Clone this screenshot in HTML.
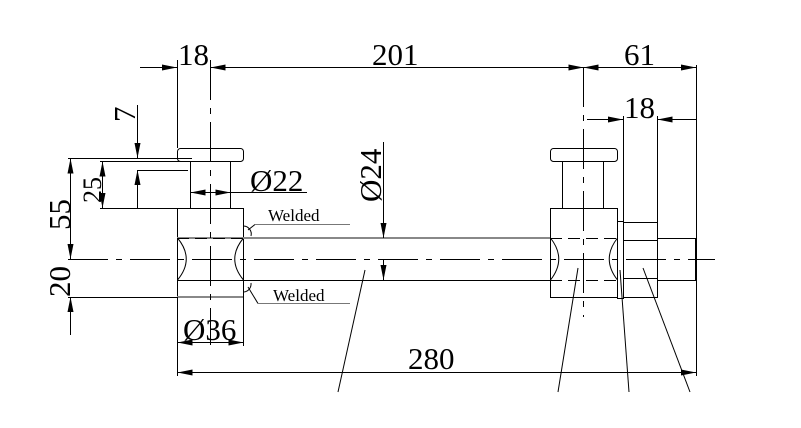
<!DOCTYPE html>
<html><head><meta charset="utf-8"><style>
html,body{margin:0;padding:0;background:#fff;}
svg{display:block;}
text{font-family:"Liberation Serif",serif;fill:#000;}
</style></head><body>
<svg width="801" height="428" viewBox="0 0 801 428" xmlns="http://www.w3.org/2000/svg">
<defs>
<marker id="a" viewBox="0 0 15 6" refX="15" refY="3" markerWidth="15" markerHeight="6" orient="auto-start-reverse" markerUnits="userSpaceOnUse"><path d="M0,0 L15,3 L0,6 z" fill="#000"/></marker>
</defs>
<g stroke="#000" stroke-width="1" fill="none">
<rect x="177.5" y="148.5" width="66" height="13" rx="3"/>
<rect x="190.5" y="161.5" width="40" height="47"/>
<path d="M177.5 208.5 H243.5 V297.5 H177.5 Z"/>
<path d="M177.5 238 Q195 259 177.5 280" />
<path d="M243.5 238 Q226 259 243.5 280" />
<line x1="177" y1="238" x2="550" y2="238" stroke="#888" stroke-width="2"/>
<line x1="177" y1="280.5" x2="550" y2="280.5"/>
<line x1="177" y1="297" x2="243" y2="297" stroke="#888" stroke-width="2"/>
<rect x="550.5" y="148.5" width="67" height="13" rx="3"/>
<rect x="562.5" y="161.5" width="41" height="47"/>
<path d="M550.5 208.5 H617.5 V297.5 H550.5 Z"/>
<path d="M550.5 238 Q567 259 550.5 280" />
<path d="M617.5 238 Q601 259 617.5 280" />
<rect x="617.5" y="221.5" width="6" height="77"/>
<rect x="623.5" y="222.5" width="34" height="75"/>
<line x1="623" y1="240.5" x2="657" y2="240.5"/>
<line x1="623" y1="278.5" x2="657" y2="278.5"/>
<rect x="657.5" y="238.5" width="38" height="42"/>
<g stroke-dasharray="12,6">
<line x1="177" y1="238.5" x2="243" y2="238.5"/>
<line x1="177" y1="280.5" x2="243" y2="280.5"/>
<line x1="550" y1="238.5" x2="617" y2="238.5"/>
<line x1="550" y1="280.5" x2="617" y2="280.5"/>
</g>
<g stroke-dasharray="40,8,6,8">
<line x1="68" y1="259.5" x2="715" y2="259.5"/>
<line x1="210.5" y1="60" x2="210.5" y2="345"/>
<line x1="583.5" y1="67" x2="583.5" y2="317"/>
</g>
<line x1="177.5" y1="60" x2="177.5" y2="148"/>
<line x1="140" y1="67.5" x2="177" y2="67.5" marker-end="url(#a)"/>
<line x1="250" y1="67.5" x2="210.5" y2="67.5" marker-end="url(#a)"/>
<line x1="210.5" y1="67.5" x2="583.5" y2="67.5"/>
<line x1="560" y1="67.5" x2="583.5" y2="67.5" marker-end="url(#a)"/>
<line x1="583.5" y1="67.5" x2="602" y2="67.5" marker-start="url(#a)"/>
<line x1="600" y1="67.5" x2="696" y2="67.5" marker-end="url(#a)"/>
<line x1="696.5" y1="65" x2="696.5" y2="376"/>
<line x1="623.5" y1="116" x2="623.5" y2="222"/>
<line x1="657.5" y1="116" x2="657.5" y2="222"/>
<line x1="587" y1="119.5" x2="623" y2="119.5" marker-end="url(#a)"/>
<line x1="696" y1="119.5" x2="657.5" y2="119.5" marker-end="url(#a)"/>
<line x1="68" y1="158.5" x2="192" y2="158.5"/>
<line x1="70.5" y1="259" x2="70.5" y2="158.5" marker-end="url(#a)"/>
<line x1="70.5" y1="200" x2="70.5" y2="259" marker-end="url(#a)"/>
<line x1="70.5" y1="335" x2="70.5" y2="297" marker-end="url(#a)"/>
<line x1="68" y1="297.5" x2="177" y2="297.5"/>
<line x1="100" y1="161.5" x2="190" y2="161.5"/>
<line x1="100" y1="208.5" x2="177" y2="208.5"/>
<line x1="102.5" y1="185" x2="102.5" y2="161.5" marker-end="url(#a)"/>
<line x1="102.5" y1="185" x2="102.5" y2="208" marker-end="url(#a)"/>
<line x1="137.5" y1="105" x2="137.5" y2="158" marker-end="url(#a)"/>
<line x1="137.5" y1="208" x2="137.5" y2="170" marker-end="url(#a)"/>
<line x1="137" y1="170.5" x2="188" y2="170.5"/>
<line x1="210" y1="192.5" x2="190.5" y2="192.5" marker-end="url(#a)"/>
<line x1="210" y1="192.5" x2="230.5" y2="192.5" marker-end="url(#a)"/>
<line x1="230" y1="192.5" x2="307" y2="192.5"/>
<line x1="383.5" y1="142" x2="383.5" y2="238" marker-end="url(#a)"/>
<line x1="383.5" y1="259" x2="383.5" y2="280" marker-end="url(#a)"/>
<line x1="243.5" y1="297" x2="243.5" y2="346"/>
<line x1="177.5" y1="297" x2="177.5" y2="376"/>
<line x1="210" y1="342.5" x2="177.5" y2="342.5" marker-end="url(#a)"/>
<line x1="210" y1="342.5" x2="243.5" y2="342.5" marker-end="url(#a)"/>
<line x1="430" y1="372.5" x2="177.5" y2="372.5" marker-end="url(#a)"/>
<line x1="430" y1="372.5" x2="696" y2="372.5" marker-end="url(#a)"/>
<path d="M243.5 226 A8 8 0 0 1 251 236" />
<line x1="248" y1="230" x2="255" y2="224.5"/>
<line x1="255" y1="224.5" x2="350" y2="224.5" stroke="#777"/>
<path d="M243.5 292 A8 8 0 0 0 251 283" />
<line x1="248" y1="287" x2="258" y2="303.5"/>
<line x1="258" y1="303.5" x2="350" y2="303.5" stroke="#777"/>
<line x1="365" y1="270" x2="338" y2="392"/>
<line x1="578" y1="268" x2="558" y2="392"/>
<line x1="620" y1="270" x2="629" y2="392"/>
<line x1="643" y1="268" x2="690" y2="392"/>
</g>
<g font-size="31">
<text x="178" y="65">18</text>
<text x="372" y="65">201</text>
<text x="624" y="65">61</text>
<text x="624" y="118">18</text>
<text x="250" y="191">Ø22</text>
<text x="183" y="340">Ø36</text>
<text x="408" y="369">280</text>
<text transform="translate(70,230) rotate(-90)">55</text>
<text transform="translate(70,297) rotate(-90)">20</text>
<text transform="translate(101,203) rotate(-90)" font-size="26">25</text>
<text transform="translate(135,122) rotate(-90)">7</text>
<text transform="translate(381,202) rotate(-90)">Ø24</text>
</g>
<text x="268" y="221" font-size="17">Welded</text>
<text x="273" y="301" font-size="17">Welded</text>
</svg>
</body></html>
